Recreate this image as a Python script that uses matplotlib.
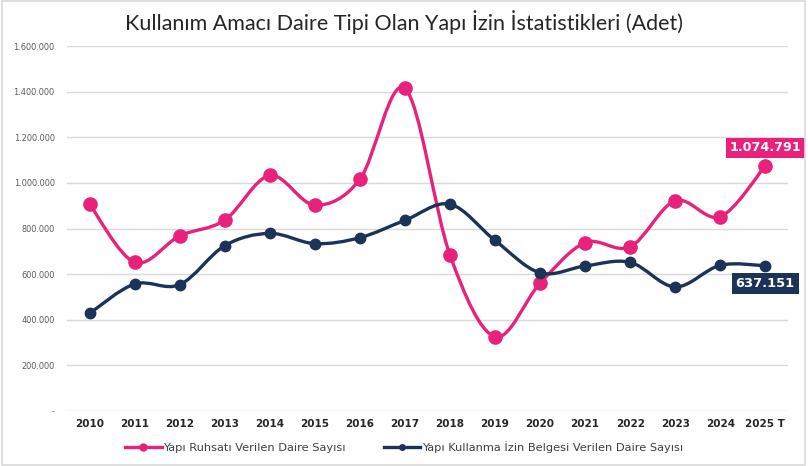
import numpy as np
import matplotlib.pyplot as plt
from matplotlib.path import Path
from matplotlib.patches import PathPatch
from matplotlib.lines import Line2D

# values
years = ['2010', '2011', '2012', '2013', '2014', '2015', '2016', '2017',
         '2018', '2019', '2020', '2021', '2022', '2023', '2024', '2025 T']
ruhsat = [907000, 652000, 768000, 837000, 1033000, 903000, 1016000, 1415000,
          684000, 326000, 560000, 738000, 720000, 922000, 852000, 1074791]
kullanma = [428000, 557000, 554000, 725000, 779000, 734000, 760000, 836000,
            907000, 748000, 606000, 636000, 652000, 544000, 639000, 637151]
yticks = [0, 200000, 400000, 600000, 800000, 1000000, 1200000, 1400000, 1600000]

PINK = '#E8227A'
NAVY = '#1B3358'


def fmt(v):
    if v == 0:
        return '-'
    return f'{v:,.0f}'.replace(',', '.')


def smooth_path(xs, ys):
    # excel style smoothed line: cubic bezier through every point
    pts = np.column_stack([xs, ys]).astype(float)
    n = len(pts)
    verts = [pts[0]]
    codes = [Path.MOVETO]
    for i in range(n - 1):
        p0 = pts[i - 1] if i > 0 else pts[i]
        p1 = pts[i]
        p2 = pts[i + 1]
        p3 = pts[i + 2] if i + 2 < n else pts[i + 1]
        c1 = p1 + (p2 - p0) / 6.0
        c2 = p2 - (p3 - p1) / 6.0
        verts += [c1, c2, p2]
        codes += [Path.CURVE4] * 3
    return Path(verts, codes)


fig = plt.figure(figsize=(8.08, 4.66), dpi=100)
ax = fig.add_axes([0.083, 0.118, 0.892, 0.783])

x = np.arange(len(years))

for vals, col, ms in [(ruhsat, PINK, 9.5), (kullanma, NAVY, 7.5)]:
    patch = PathPatch(smooth_path(x, vals), facecolor='none', edgecolor=col,
                      lw=2.4, capstyle='round', joinstyle='round', zorder=3)
    ax.add_patch(patch)
    ax.plot(x, vals, ls='none', marker='o', ms=ms, color=col, zorder=4)

ax.set_xlim(-0.5, len(years) - 0.5)
ax.set_ylim(0, 1600000)
ax.set_yticks(yticks)
ax.set_yticklabels([fmt(v) for v in yticks], fontsize=5.9, color='#595959')
ax.set_xticks(x)
ax.set_xticklabels(years, fontsize=7.5, fontweight='bold', color='#262626')
ax.tick_params(length=0)
ax.tick_params(axis='y', pad=9)
ax.tick_params(axis='x', pad=6)
ax.grid(axis='y', color='#D9D9D9', lw=1)
ax.set_axisbelow(True)
for s in ax.spines.values():
    s.set_visible(False)

# data labels for the last year
ax.annotate(fmt(ruhsat[-1]), (x[-1], ruhsat[-1]), xytext=(0, 13),
            textcoords='offset points', ha='center', va='center',
            fontsize=9.2, fontweight='bold', color='white',
            bbox=dict(boxstyle='square,pad=0.3', fc=PINK, ec='none'), zorder=5)
ax.annotate(fmt(kullanma[-1]), (x[-1], kullanma[-1]), xytext=(0, -13),
            textcoords='offset points', ha='center', va='center',
            fontsize=9.4, fontweight='bold', color='white',
            bbox=dict(boxstyle='square,pad=0.3', fc=NAVY, ec='none'), zorder=5)

fig.text(0.5, 0.952, 'Kullanım Amacı Daire Tipi Olan Yapı İzin İstatistikleri (Adet)',
         ha='center', va='center', fontsize=15.5, color='#262626', family='Lato')

handles = [Line2D([], [], color=PINK, lw=2.4, marker='o', ms=5),
           Line2D([], [], color=NAVY, lw=2.4, marker='o', ms=4)]
fig.legend(handles, ['Yapı Ruhsatı Verilen Daire Sayısı',
                     'Yapı Kullanma İzin Belgesi Verilen Daire Sayısı'],
           loc='center', bbox_to_anchor=(0.5, 0.04), ncol=2, frameon=False,
           fontsize=8.2, labelcolor='#404040', handlelength=3.2,
           handletextpad=0.1, columnspacing=3.4)

# light chart border
fig.patches.append(plt.Rectangle((0.002, 0.003), 0.994, 0.994, transform=fig.transFigure,
                                 fill=False, ec='#D9D9D9', lw=1.2))

fig.savefig('out.png', dpi=100)
